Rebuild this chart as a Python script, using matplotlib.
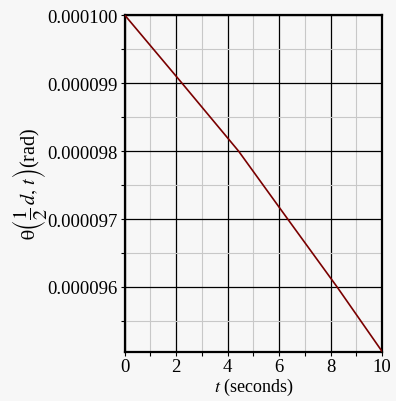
import numpy as np
import matplotlib
matplotlib.use("Agg")
import matplotlib.pyplot as plt
from matplotlib.ticker import MultipleLocator, FormatStrFormatter

# values (time in s, angle in rad)
t = [0, 2.22, 4.42, 6.33, 8.25, 10]
theta = [0.000100, 0.000099, 0.000098, 0.000097, 0.000096, 0.00009505]

plt.rcParams['font.family'] = ['Liberation Serif', 'DejaVu Serif']
plt.rcParams['mathtext.fontset'] = 'stix'

bg = '#f7f7f7'
fig = plt.figure(figsize=(3.96, 4.02), dpi=100, facecolor=bg)
ax = fig.add_axes([0.315, 0.123, 0.65, 0.837], facecolor=bg)

ax.plot(t, theta, color='#7a0000', lw=1.2, zorder=5)

ax.set_xlim(0, 10)
ax.set_ylim(theta[-1], 0.000100)
ax.xaxis.set_major_locator(MultipleLocator(2))
ax.xaxis.set_minor_locator(MultipleLocator(1))
ax.yaxis.set_major_locator(MultipleLocator(1e-6))
ax.yaxis.set_minor_locator(MultipleLocator(5e-7))
ax.yaxis.set_major_formatter(FormatStrFormatter('%.6f'))

ax.grid(which='minor', color='#c8c8c8', lw=0.8)
ax.grid(which='major', color='black', lw=0.9)
ax.set_axisbelow(True)

for s in ax.spines.values():
    s.set_linewidth(1.6)
ax.tick_params(which='both', direction='out', length=3, width=0.8, labelsize=13.5, pad=2)

ax.set_xlabel(r'$t$ (seconds)', fontsize=13, labelpad=0)
ax.set_ylabel(r'$\mathrm{\theta}\left(\dfrac{1}{2}\,d,\,t\right)$(rad)', fontsize=14.5, labelpad=-1)

plt.savefig('out.png', dpi=100, facecolor=bg)
